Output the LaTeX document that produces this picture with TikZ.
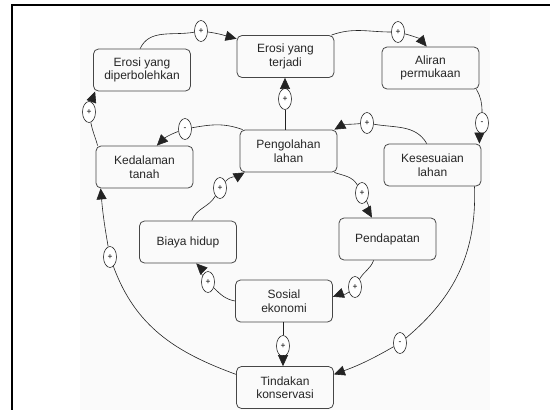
\documentclass[tikz,border=0pt]{standalone}
\usepackage{fontspec}
\setmainfont{Liberation Sans}
\usetikzlibrary{shapes.geometric,arrows.meta}
\definecolor{lnk}{RGB}{35,35,35}
\definecolor{edge}{RGB}{70,70,70}
\definecolor{paper}{RGB}{250,250,250}

\begin{document}
\begin{tikzpicture}[x=1pt,y=1pt,
  box/.style={draw=edge, line width=0.8pt, rounded corners=5pt, minimum width=97pt,
    minimum height=42pt, inner sep=2pt, align=center, text=black!85,
    font=\fontsize{12}{13.5}\selectfont},
  sgn/.style={draw=lnk, line width=0.6pt, ellipse, fill=white, minimum width=13pt,
    minimum height=21pt, inner sep=0pt, font=\fontsize{8.5}{8.5}\selectfont},
  link/.style={draw=lnk, line width=0.6pt, -{Triangle[length=11pt,width=10pt]}},
  wire/.style={draw=lnk, line width=0.6pt}]
\useasboundingbox (0,0) rectangle (550,-410);
% frame and paper
\fill[paper] (80,-6) rectangle (490,-410);
\draw[line width=2pt] (12,-410) -- (12,-4.5) -- (550,-4.5);

% Boxes
\node[box] (erosiboleh) at (142,-70)    {Erosi yang\\diperbolehkan};
\node[box] (erosi)      at (285.5,-56.5) {Erosi yang\\terjadi};
\node[box] (aliran)     at (430.5,-68)  {Aliran\\permukaan};
\node[box] (olah)       at (288.5,-151) {Pengolahan\\lahan};
\node[box] (dalam)      at (144.5,-167) {Kedalaman\\tanah};
\node[box] (sesuai)     at (432.5,-165) {Kesesuaian\\lahan};
\node[box] (biaya)      at (188,-242)   {Biaya hidup};
\node[box] (dapat)      at (387.5,-239) {Pendapatan};
\node[box] (sosial)     at (284,-301)   {Sosial\\ekonomi};
\node[box] (tindakan)   at (285,-387.5) {Tindakan\\konservasi};

% Signs
\node[sgn] (sg1)  at (201,-31)  {+};
\node[sgn] (sg2)  at (398,-32)  {+};
\node[sgn] (sg3)  at (482,-123) {-};
\node[sgn] (sg4)  at (367,-123) {+};
\node[sgn] (sg5)  at (185,-129) {-};
\node[sgn] (sg6)  at (89,-112)  {+};
\node[sgn] (sg7)  at (285,-99)  {+};
\node[sgn] (sg8)  at (362,-193) {+};
\node[sgn] (sg9)  at (220,-188) {+};
\node[sgn] (sg10) at (355,-287) {+};
\node[sgn] (sg11) at (208,-282) {+};
\node[sgn] (sg12) at (283,-346) {+};
\node[sgn] (sg13) at (110,-257) {+};
\node[sgn] (sg14) at (400,-343) {-};

% Upper loop
\draw[wire] (erosiboleh.95) to[out=65,in=190] (sg1);
\draw[link] (sg1) to[out=-8,in=165] (erosi.160);
\draw[wire] (erosi.25) to[out=20,in=180] (sg2);
\draw[link] (sg2) to[out=-15,in=130] (aliran.100);
\draw[wire] (aliran.-25) to[out=-60,in=90] (sg3);
\draw[link] (sg3) to[out=-90,in=90] ([xshift=-2pt]sesuai.north east);
\draw[wire] (sesuai.105) to[out=120,in=-10] (sg4);
\draw[link] (sg4) to[out=185,in=30] (olah.25);
\draw[wire] (olah.155) to[out=160,in=10] (sg5);
\draw[link] (sg5) to[out=200,in=45] (dalam.60);
\draw[wire] ([xshift=2pt]dalam.north west) to[out=105,in=-80] (sg6);
\draw[link] (sg6) to[out=80,in=-110] ([xshift=2pt]erosiboleh.south west);
\draw[wire] (sg7 |- olah.north) -- (sg7);
\draw[link] (sg7) -- (sg7 |- erosi.south);

% Inner loop
\draw[wire] (olah.-25) to[out=-20,in=120] (sg8);
\draw[link] (sg8) to[out=-60,in=120] (dapat.126);
\draw[wire] (dapat.-123) to[out=-110,in=60] (sg10);
\draw[link] (sg10) to[out=-140,in=20] (sosial.5);
\draw[wire] (sosial.west) to[out=170,in=-45] (sg11);
\draw[link] (sg11) to[out=130,in=-45] (biaya.-69);
\draw[wire] (biaya.80) to[out=70,in=-120] (sg9);
\draw[link] (sg9) to[out=50,in=-150] (olah.-154);
\draw[wire] (sg12 |- sosial.south) -- (sg12);
\draw[link] (sg12) -- (sg12 |- tindakan.north);

% Outer links
\draw[wire] (tindakan.165) to[out=160,in=-70] (sg13);
\draw[link] (sg13) to[out=100,in=-85] (dalam.-154);
\draw[wire] (sesuai.-27) to[out=-88,in=40] (sg14);
\draw[link] (sg14) to[out=-150,in=20] (tindakan.15);
\end{tikzpicture}
\end{document}
